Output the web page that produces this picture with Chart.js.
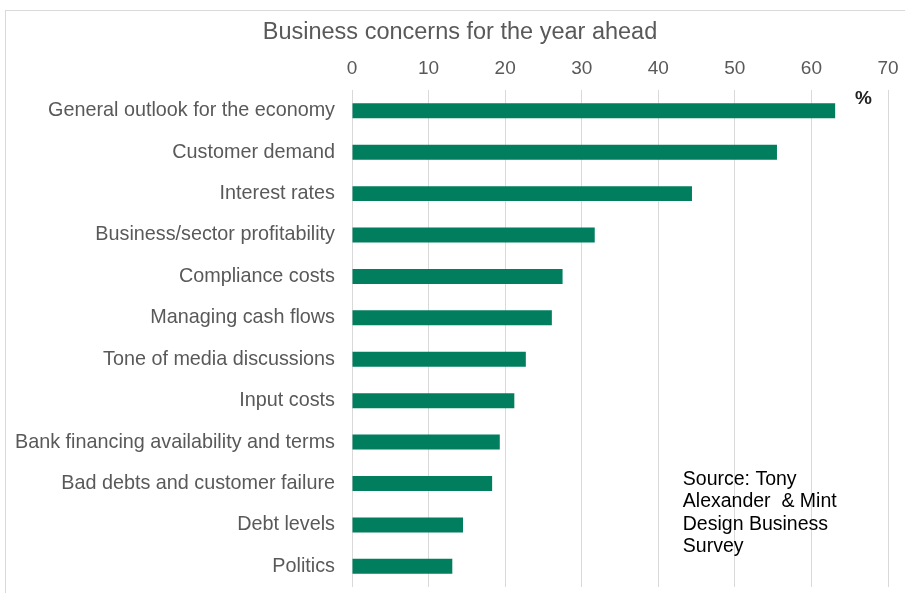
<!DOCTYPE html>
<html>
<head>
<meta charset="utf-8">
<title>Business concerns for the year ahead</title>
<script src="https://cdn.jsdelivr.net/npm/chart.js@4.4.1/dist/chart.umd.min.js"></script>
<style>
  html, body { margin: 0; padding: 0; background: #ffffff; overflow: hidden; }
  #wrap { position: relative; width: 905px; height: 593px; overflow: hidden; }
  #frame {
    position: absolute; left: 5px; top: 10px; width: 1200px; height: 1200px;
    border: 1px solid #d9d9d9; box-sizing: border-box;
  }
  canvas { position: absolute; left: 0; top: 0; }
</style>
</head>
<body>
<div id="wrap">
  <div id="frame"></div>
  <canvas id="chart" width="905" height="593"></canvas>
</div>
<script>
// Survey categories, top to bottom
const categories = [
  "General outlook for the economy",
  "Customer demand",
  "Interest rates",
  "Business/sector profitability",
  "Compliance costs",
  "Managing cash flows",
  "Tone of media discussions",
  "Input costs",
  "Bank financing availability and terms",
  "Bad debts and customer failure",
  "Debt levels",
  "Politics"
];

// Share of businesses citing each concern (%)
const concernPct = [63.1, 55.5, 44.4, 31.7, 27.5, 26.1, 22.7, 21.2, 19.3, 18.3, 14.5, 13.1];

// Value axis tick labels
const xTickValues = [0, 10, 20, 30, 40, 50, 60, 70];

const chartTitle = "Business concerns for the year ahead";
const sourceLines = ["Source: Tony", "Alexander  & Mint", "Design Business", "Survey"];

const FONT = "'Liberation Sans', Arial, Helvetica, sans-serif";
const GREY = "#595959";

// Title, unit marker and source note
const annotations = {
  id: "annotations",
  afterDraw(chart) {
    const { ctx } = chart;
    const x = chart.scales.x;
    ctx.save();

    ctx.font = "23.5px " + FONT;
    ctx.fillStyle = GREY;
    ctx.textAlign = "center";
    ctx.textBaseline = "middle";
    ctx.fillText(chartTitle, 460, 33);

    ctx.font = "bold 19px " + FONT;
    ctx.fillStyle = "#222222";
    ctx.fillText("%", x.getPixelForValue(66.8), chart.chartArea.top + 9);

    ctx.font = "19.5px " + FONT;
    ctx.fillStyle = "#000000";
    ctx.textAlign = "left";
    ctx.textBaseline = "alphabetic";
    const left = x.getPixelForValue(43.2);
    sourceLines.forEach((line, i) => {
      ctx.fillText(line, left, 485 + i * 22.4);
    });
    ctx.restore();
  }
};

new Chart(document.getElementById("chart"), {
  type: "bar",
  data: {
    labels: categories,
    datasets: [{
      data: concernPct,
      backgroundColor: "#007e5e",
      borderWidth: 0,
      barPercentage: 0.362,
      categoryPercentage: 1.0
    }]
  },
  options: {
    indexAxis: "y",
    responsive: false,
    animation: false,
    devicePixelRatio: 1,
    layout: { padding: { top: 53.2, left: 5, right: 17, bottom: 6 } },
    plugins: {
      legend: { display: false },
      tooltip: { enabled: false },
      title: { display: false }
    },
    scales: {
      x: {
        position: "top",
        min: 0,
        max: 70,
        afterBuildTicks(scale) {
          scale.ticks = xTickValues.map(v => ({ value: v }));
        },
        afterFit(scale) {
          scale.height = 36.9;
          scale.paddingLeft = 0;
          scale.paddingRight = 0;
        },
        grid: { color: "#d9d9d9", lineWidth: 1, drawTicks: false },
        border: { display: false },
        ticks: {
          color: GREY,
          padding: 10,
          font: { family: FONT, size: 19 },
          maxRotation: 0
        }
      },
      y: {
        afterFit(scale) {
          scale.width = 347;
          scale.paddingTop = 0;
          scale.paddingBottom = 0;
        },
        grid: { display: false, drawTicks: false },
        border: { display: false },
        ticks: {
          color: GREY,
          padding: 17,
          autoSkip: false,
          font: { family: FONT, size: 19.8 }
        }
      }
    }
  },
  plugins: [annotations]
});
</script>
</body>
</html>
